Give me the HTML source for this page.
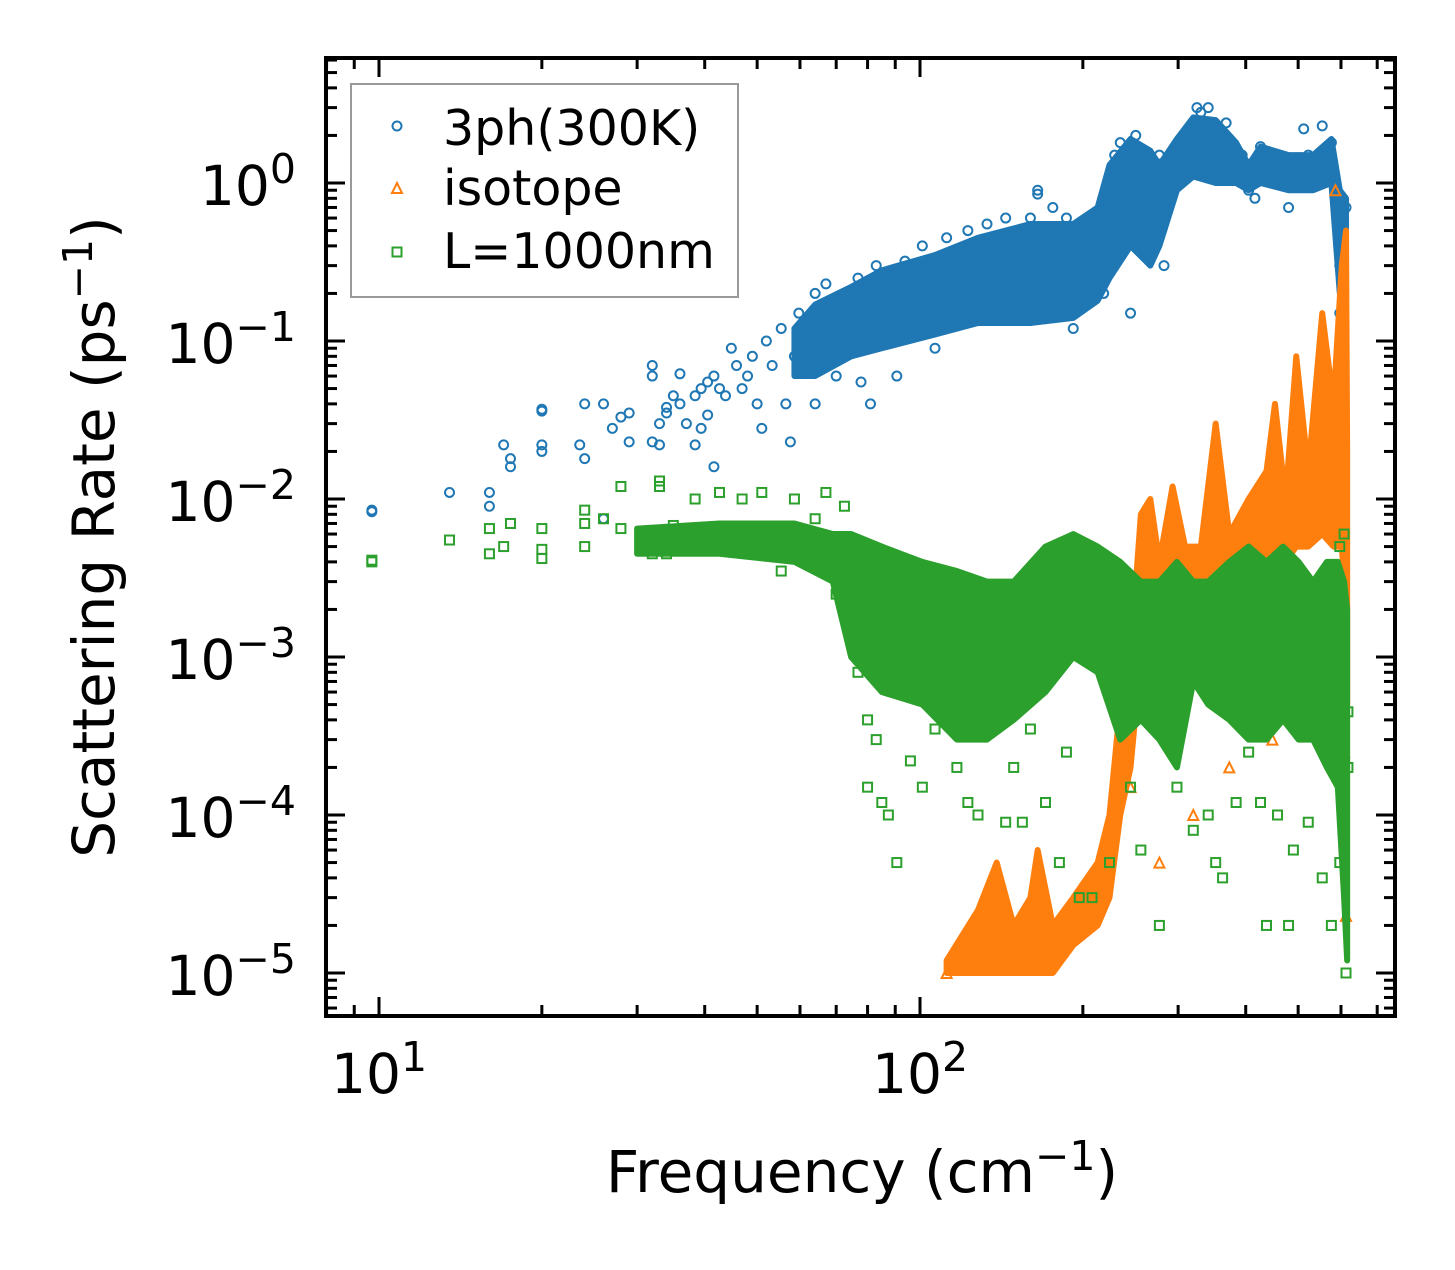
<!DOCTYPE html>
<html><head><meta charset="utf-8"><style>
body{margin:0;background:#fff}
svg text{font-family:"DejaVu Sans","Liberation Sans",sans-serif;fill:#000}
</style></head><body>
<svg id="chart" width="1455" height="1265" viewBox="0 0 1455 1265" xmlns="http://www.w3.org/2000/svg">
<rect width="1455" height="1265" fill="#fff"/>
<g id="marks"></g>
<g id="axes"></g>
<text transform="translate(114,537) rotate(-90)" text-anchor="middle" font-size="58">Scattering Rate (ps<tspan dy="-22" font-size="41">−1</tspan><tspan dy="22">)</tspan></text>
<text x="862" y="1192" text-anchor="middle" font-size="58">Frequency (cm<tspan dy="-22" font-size="41">−1</tspan><tspan dy="22">)</tspan></text>
<g>
<rect x="351" y="84" width="387" height="213" fill="#fff" stroke="#999" stroke-width="2"/>
<circle cx="397" cy="126" r="4.5" fill="none" stroke="#1f77b4" stroke-width="2"/>
<polygon points="397,183 402,193 392,193" fill="none" stroke="#ff7f0e" stroke-width="2"/>
<rect x="392.5" y="247.5" width="9" height="9" fill="none" stroke="#2ca02c" stroke-width="2"/>
<text x="443" y="145" font-size="49">3ph(300K)</text>
<text x="443" y="205" font-size="49">isotope</text>
<text x="443" y="268" font-size="49">L=1000nm</text>
</g>
</svg>
<script>
// ---- data ----
const blueX=[9.7,9.7,13.5,16,16,17,17.5,17.5,20,20,20,20,23.5,24,24,26,26,27,28,29,29,32,32,32,33,33,34,34,35,36,36,37,38.4,38.4,39.4,39.4,40.5,40.5,41.6,41.6,42.6,43.7,44.8,45.8,46.9,48,49,50,51,52,53.3,55.4,56.5,57.6,58.6,59.7,61.8,64,64,66,67,69,70,72.5,74.6,76.8,77.8,80,81,83,85,87.4,90.6,93.8,96,98,101,104.5,106.6,106.6,112,117,122.6,128,133,138.6,144,149,154.6,160,165,165,170.6,176,181,186.5,192,192,197,202.5,213,213,218.5,224,229,234.5,240,245,250.5,256,261,266.5,272,277,282.5,288,298.5,309,320,325,330.5,336,341,352,362.5,368,373,384,394,405,416,426,437,448,458,469,480,490,512,522,533,544,554,576,586,597,597,602,613];
const blueY=[0.0085,0.0083,0.011,0.011,0.009,0.022,0.018,0.016,0.037,0.036,0.022,0.02,0.022,0.04,0.018,0.04,0.0075,0.028,0.033,0.035,0.023,0.07,0.06,0.023,0.03,0.022,0.038,0.035,0.045,0.062,0.04,0.03,0.045,0.022,0.05,0.028,0.055,0.034,0.06,0.016,0.05,0.045,0.09,0.07,0.05,0.06,0.08,0.04,0.028,0.1,0.07,0.12,0.04,0.023,0.08,0.15,0.1,0.2,0.04,0.12,0.23,0.15,0.06,0.19,0.12,0.25,0.055,0.1,0.04,0.3,0.15,0.2,0.06,0.32,0.2,0.25,0.4,0.13,0.09,0.3,0.45,0.2,0.5,0.3,0.55,0.2,0.6,0.3,0.25,0.6,0.85,0.9,0.2,0.7,0.4,0.6,0.12,0.3,0.5,0.55,0.3,0.6,0.2,1.0,1.5,1.8,1.2,0.15,2.0,1.5,1.0,0.8,0.5,1.5,0.3,1.2,1.6,1.8,2.2,3.0,2.8,1.2,3.0,1.8,2.0,2.4,1.5,1.4,1.5,0.9,0.8,1.7,1.4,1.2,1.4,1.0,0.7,1.2,2.2,1.5,1.0,1.5,2.3,1.8,0.8,0.3,0.15,0.6,0.7];
const blueBandX=[58.6,64,74.6,85,106.6,128,160,192,213,224,245,266.5,277,298.5,320,352,384,405,426,480,533,576,597,613];
const blueBandLo=[0.06,0.06,0.08,0.09,0.11,0.13,0.13,0.14,0.18,0.25,0.4,0.3,0.4,0.9,1.1,1.0,1.0,0.9,1.0,0.9,0.9,1.0,0.2,0.3];
const blueBandHi=[0.12,0.17,0.22,0.28,0.35,0.45,0.55,0.55,0.7,1.3,1.9,1.6,1.3,1.9,2.6,2.5,1.8,1.3,1.7,1.5,1.5,1.9,0.9,0.8];

const orangeX=[586,613,608,112,138.6,277,245,320,373,448];
const orangeY=[0.9,2.3e-5,2.5e-4,1e-5,2.5e-5,5e-5,1.5e-4,1e-4,2e-4,3e-4];
const orangeBandX=[112,128,138.6,149,160,165,176,192,213,224,234.5,245,256,266.5,277,293,309,330.5,352,373,405,437,453,474,496,522,554,581,602,613,616];
const orangeBandLo=[1e-5,1e-5,1e-5,1e-5,1e-5,1e-5,1e-5,1.5e-5,2e-5,3e-5,1e-4,2e-4,1e-3,2e-3,2e-3,2e-3,2e-3,2.5e-3,3e-3,3e-3,3e-3,4e-3,4e-3,4e-3,5e-3,5e-3,6e-3,5e-3,5e-3,2e-3,5e-4];
const orangeBandHi=[1.2e-5,2.5e-5,5e-5,2e-5,3e-5,6e-5,2e-5,3e-5,5e-5,1e-4,5e-4,1e-3,8e-3,1e-2,4e-3,1.2e-2,5e-3,5e-3,3e-2,6e-3,1e-2,1.5e-2,4e-2,1e-2,8e-2,1.5e-2,1.5e-1,4e-2,3e-1,5e-1,2e-2];

const greenX=[9.7,9.7,13.5,16,16,17,17.5,20,20,20,24,24,24,26,28,28,32,32,33,33,34,35,36,38.4,39.4,40.5,42.6,44.8,46.9,49,51,53.3,55.4,58.6,61.8,64,67,70,72.5,74.6,76.8,80,80,83,85,87.4,90.6,96,101,106.6,117,122.6,128,138.6,144,149,154.6,160,170.6,181,186.5,197,208,224,245,256,277,298.5,320,341,352,362.5,384,405,426,437,458,480,490,522,554,576,597,613,597,608,618,618];
const greenY=[0.004,0.0041,0.0055,0.0045,0.0065,0.005,0.007,0.0042,0.0048,0.0065,0.007,0.005,0.0085,0.0075,0.012,0.0065,0.006,0.0045,0.013,0.012,0.0045,0.0068,0.0055,0.01,0.0055,0.006,0.011,0.0065,0.01,0.0058,0.011,0.0055,0.0035,0.01,0.0042,0.0075,0.011,0.0025,0.009,0.0015,0.0008,0.0004,0.00015,0.0003,0.00012,0.0001,0.00005,0.00022,0.00015,0.00035,0.0002,0.00012,0.0001,0.0004,0.00009,0.0002,0.00009,0.00035,0.00012,0.00005,0.00025,0.00003,0.00003,0.00005,0.00015,0.00006,0.00002,0.00015,0.00008,0.0001,0.00005,0.00004,0.00012,0.00025,0.00012,0.00002,0.0001,0.00002,0.00006,0.00009,0.00004,0.00002,0.00005,0.00001,0.005,0.006,0.00045,0.0002];
const greenBandX=[30,42.6,58.6,69,74.6,85,101,117,133,149,170.6,192,213,234.5,256,277,298.5,320,341,373,405,437,469,501,533,565,592,608,616];
const greenBandLo=[0.0045,0.0045,0.004,0.003,0.001,6e-4,5e-4,3e-4,3e-4,4e-4,6e-4,1e-3,8e-4,3e-4,4e-4,3e-4,2e-4,7e-4,5e-4,4e-4,3e-4,3e-4,4e-4,3e-4,3e-4,2e-4,1.5e-4,3e-5,1.2e-5];
const greenBandHi=[0.0065,0.007,0.007,0.006,0.006,5e-3,4e-3,3.5e-3,3e-3,3e-3,5e-3,6e-3,5e-3,4e-3,3e-3,3e-3,4e-3,3e-3,3e-3,4e-3,5e-3,4e-3,5e-3,4e-3,3e-3,4e-3,4e-3,3e-3,2e-3];

const xTickVals=[10,100];
const xTickLabels=["1","2"];
const yTickVals=[1,0.1,0.01,0.001,0.0001,0.00001];
const yTickLabels=["0","−1","−2","−3","−4","−5"];

// ---- axes ----
const L=326,R=1395,T=58,B=1016;
const X0=379,XD=541,Y0=183,YD=158;
function sx(v){return X0+(Math.log10(v)-1)*XD;}
function sy(v){return Y0-Math.log10(v)*YD;}
const NS="http://www.w3.org/2000/svg";
const marks=document.getElementById('marks'),axes=document.getElementById('axes');
function mk(tag,attrs,parent){const e=document.createElementNS(NS,tag);for(const k in attrs)e.setAttribute(k,attrs[k]);parent.appendChild(e);return e;}

const clip=mk('clipPath',{id:'pc'},document.getElementById('chart'));
mk('rect',{x:L,y:T,width:R-L,height:B-T},clip);
marks.setAttribute('clip-path','url(#pc)');

function band(xs,lo,hi,color,name){
  let pts=xs.map((x,i)=>sx(x)+','+sy(hi[i]));
  for(let i=xs.length-1;i>=0;i--)pts.push(sx(xs[i])+','+sy(lo[i]));
  const p=mk('polygon',{points:pts.join(' '),fill:color,stroke:color,'stroke-width':6,'stroke-linejoin':'round'},marks);
  
  
}
function circles(xs,ys){xs.forEach((x,i)=>{const c=mk('circle',{cx:sx(x),cy:sy(ys[i]),r:4.5,fill:'none',stroke:'#1f77b4','stroke-width':2},marks);
  
  });}
function tris(xs,ys){xs.forEach((x,i)=>{const cx=sx(x),cy=sy(ys[i]);const t=mk('polygon',{points:`${cx},${cy-5} ${cx+5},${cy+5} ${cx-5},${cy+5}`,fill:'none',stroke:'#ff7f0e','stroke-width':2},marks);
  
  });}
function squares(xs,ys){xs.forEach((x,i)=>{const r=mk('rect',{x:sx(x)-4.5,y:sy(ys[i])-4.5,width:9,height:9,fill:'none',stroke:'#2ca02c','stroke-width':2},marks);
  
  });}

band(blueBandX,blueBandLo,blueBandHi,'#1f77b4','band-3ph');
circles(blueX,blueY);
band(orangeBandX,orangeBandLo,orangeBandHi,'#ff7f0e','band-isotope');
tris(orangeX,orangeY);
band(greenBandX,greenBandLo,greenBandHi,'#2ca02c','band-boundary');
squares(greenX,greenY);

// ticks
function line(x1,y1,x2,y2,w){mk('line',{x1,y1,x2,y2,stroke:'#000','stroke-width':w},axes);}
for(let d=0;d<=3;d++){for(let m=1;m<=9;m++){const v=m*Math.pow(10,d);const x=sx(v);if(x<L||x>R)continue;const len=m===1?19:11;line(x,B,x,B-len,3);line(x,T,x,T+len,3);}}
for(let d=-6;d<=1;d++){for(let m=1;m<=9;m++){const v=m*Math.pow(10,d);const y=sy(v);if(y<T||y>B)continue;const len=m===1?19:11;line(L,y,L+len,y,3);line(R,y,R-len,y,3);}}
mk('rect',{x:L,y:T,width:R-L,height:B-T,fill:'none',stroke:'#000','stroke-width':4},axes);
xTickVals.forEach((v,i)=>{const t=mk('text',{x:sx(v),y:1093,'text-anchor':'middle','font-size':55},axes);
  
  
  t.innerHTML='10<tspan dy="-22" font-size="41">'+xTickLabels[i]+'</tspan>';});
yTickVals.forEach((v,i)=>{const t=mk('text',{x:296,y:sy(v)+22,'text-anchor':'end','font-size':55},axes);
  
  
  t.innerHTML='10<tspan dy="-22" font-size="41">'+yTickLabels[i]+'</tspan>';});
</script>
</body></html>
